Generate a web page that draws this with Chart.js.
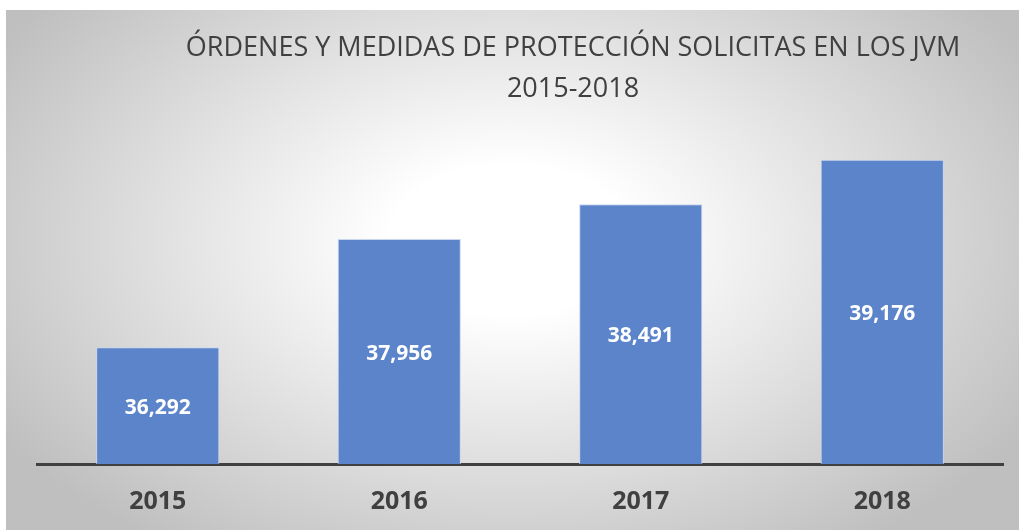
<!DOCTYPE html>
<html>
<head>
<meta charset="utf-8">
<script src="https://cdn.jsdelivr.net/npm/chart.js@4.4.1/dist/chart.umd.min.js"></script>
<style>
html,body{margin:0;padding:0;background:#fff;}
#wrap{width:1019px;height:530px;position:relative;}
</style>
</head>
<body>
<div id="wrap"><canvas id="c" width="1019" height="530"></canvas></div>
<script>
const categories = ["2015", "2016", "2017", "2018"];
const values = [36292, 37956, 38491, 39176];
const titleLines = ["ÓRDENES Y MEDIDAS DE PROTECCIÓN SOLICITAS EN LOS JVM", "2015-2018"];

function fmt(v) {
  return String(v).replace(/\B(?=(\d{3})+(?!\d))/g, ',');
}

const bgPlugin = {
  id: 'bg',
  beforeDraw(chart) {
    const ctx = chart.ctx;
    const W = chart.width, H = chart.height;
    ctx.save();
    ctx.fillStyle = '#ffffff';
    ctx.fillRect(0, 0, W, H);
    const x0 = 6, y0 = 10;
    ctx.translate(510, 240);
    ctx.scale(1, 0.62);
    const g = ctx.createRadialGradient(0, 0, 0, 0, 0, 600);
    g.addColorStop(0, '#ffffff');
    g.addColorStop(0.2, '#ffffff');
    g.addColorStop(1, '#bfbfbf');
    ctx.fillStyle = g;
    ctx.fillRect(x0 - 510, (y0 - 240) / 0.62, W, (H - y0) / 0.62);
    ctx.restore();
  }
};

const titlePlugin = {
  id: 'customTitle',
  afterDraw(chart) {
    const ctx = chart.ctx;
    ctx.save();
    ctx.fillStyle = '#404040';
    ctx.font = '400 27px "Open Sans"';
    ctx.textAlign = 'center';
    ctx.textBaseline = 'middle';
    ctx.fillText(titleLines[0], 573, 48);
    ctx.fillText(titleLines[1], 573, 89);

    const xs = chart.scales.x, ys = chart.scales.y;
    const basePx = ys.getPixelForValue(ys.min);
    ctx.fillStyle = '#ffffff';
    ctx.font = 'bold 21px "Open Sans"';
    values.forEach((v, i) => {
      const x = xs.getPixelForValue(i);
      const top = ys.getPixelForValue(v);
      ctx.fillText(fmt(v), x, (top + basePx) / 2 + 2);
    });
    ctx.restore();
  }
};

new Chart(document.getElementById('c'), {
  type: 'bar',
  data: {
    labels: categories,
    datasets: [{
      data: values,
      backgroundColor: '#5b84cb',
      borderColor: '#c9d6ef',
      borderWidth: 1,
      borderSkipped: 'bottom',
      categoryPercentage: 1,
      barPercentage: 0.51
    }]
  },
  options: {
    responsive: false,
    animation: false,
    devicePixelRatio: 1,
    layout: {padding: {left: 37, right: 16, top: 106, bottom: 0}},
    plugins: {legend: {display: false}, title: {display: false}, tooltip: {enabled: false}},
    scales: {
      y: {display: false, min: 34500, max: 40000},
      x: {
        grid: {display: false, drawTicks: false},
        border: {display: true, color: '#404040', width: 3},
        ticks: {color: '#404040', font: {family: '"Open Sans"', size: 25, weight: 'bold'}, padding: 23},
        afterFit(scale) { scale.height = 66; }
      }
    }
  },
  plugins: [bgPlugin, titlePlugin]
});
</script>
</body>
</html>
